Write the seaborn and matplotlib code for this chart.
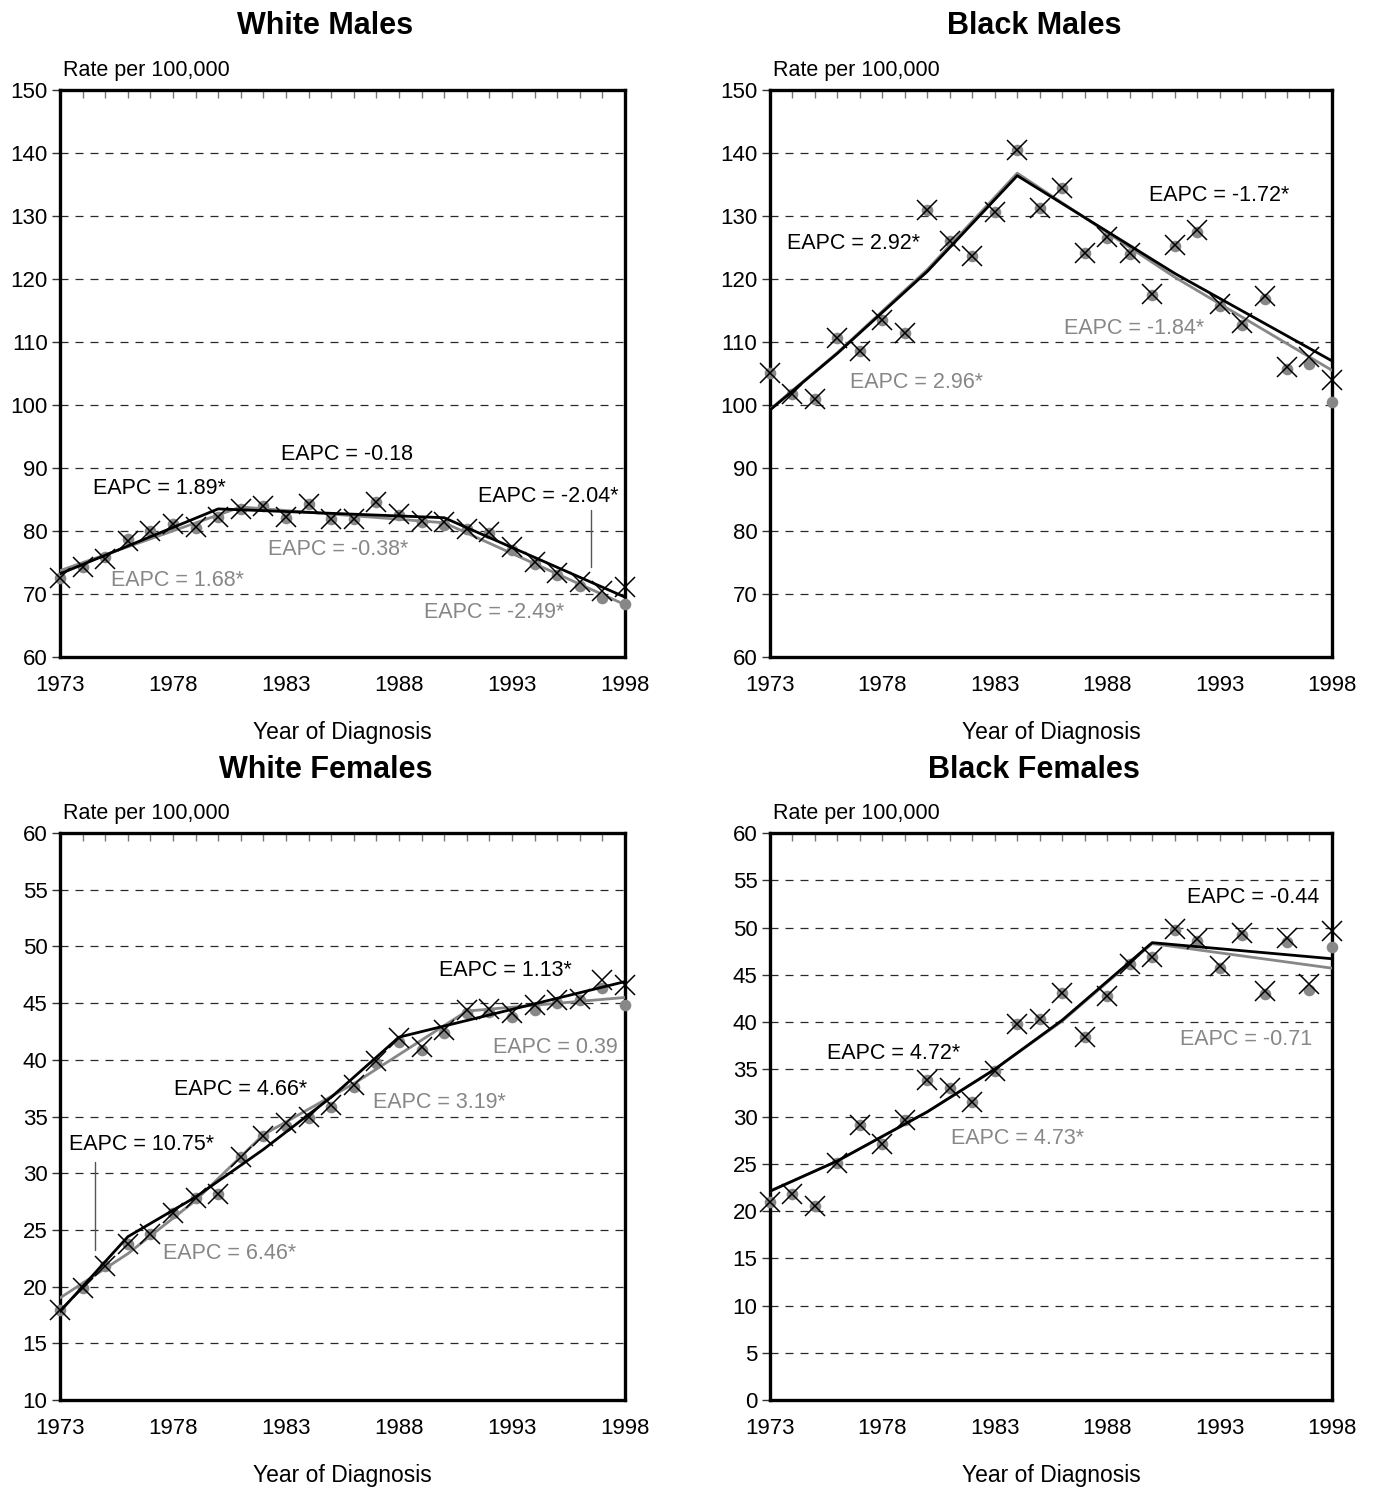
import numpy as np
import pandas as pd
import matplotlib
matplotlib.use("Agg")
import matplotlib.pyplot as plt
import seaborn as sns

years = list(range(1973, 1999))
tick_years = [1973, 1978, 1983, 1988, 1993, 1998]

# White males
wm_obs = [72.6, 74.2, 75.6, 78.4, 80.0, 81.1, 80.6, 82.2, 83.5, 83.9, 82.2, 84.3, 81.9, 81.9,
          84.6, 82.7, 81.6, 81.4, 80.3, 79.8, 77.4, 75.0, 73.4, 71.9, 70.5, 71.1]
wm_adj = [72.6, 74.2, 75.8, 78.7, 80.0, 81.1, 80.4, 82.2, 83.5, 83.9, 82.0, 84.2, 81.9, 81.9,
          84.6, 82.5, 81.4, 81.0, 80.3, 79.6, 77.0, 74.8, 73.0, 71.3, 69.3, 68.4]
wm_fit_x = [1973, 1980, 1990, 1998]
wm_fit = [73.2, 83.5, 82.1, 69.5]
wm_adj_fit_x = [1973, 1981, 1990, 1998]
wm_adj_fit = [73.7, 83.8, 81.3, 68.3]

# Black males
bm_obs = [105.1, 101.7, 101.0, 110.7, 108.6, 113.5, 111.4, 131.0, 126.1, 123.6, 130.7, 140.4, 131.2,
          134.4, 124.1, 126.7, 124.1, 117.6, 125.4, 127.7, 116.0, 113.0, 117.3, 106.1, 107.6, 103.9]
bm_adj = [105.1, 101.7, 101.0, 110.7, 108.6, 113.5, 111.4, 131.0, 126.1, 123.6, 130.7, 140.4, 131.2,
          134.4, 124.1, 126.5, 123.9, 117.4, 125.2, 127.4, 115.7, 112.7, 116.8, 105.7, 106.5, 100.5]
bm_fit_x = [1973, 1976, 1980, 1984, 1991, 1998]
bm_fit = [99.2, 108.2, 121.2, 136.4, 120.9, 107.0]
bm_adj_fit_x = [1973, 1976, 1980, 1984, 1991, 1998]
bm_adj_fit = [99.3, 108.3, 121.5, 136.8, 120.3, 105.5]

# White females
wf_obs = [17.9, 19.85, 21.8, 23.8, 24.6, 26.5, 27.8, 28.2, 31.4, 33.3, 34.4, 35.0, 36.0, 37.8,
          39.9, 41.9, 41.1, 42.6, 44.4, 44.5, 44.1, 44.8, 45.3, 45.4, 47.0, 46.6]
wf_adj = [17.9, 19.85, 21.8, 23.8, 24.6, 26.5, 27.8, 28.2, 31.4, 33.3, 34.2, 34.9, 35.8, 37.6,
          39.7, 41.6, 40.9, 42.4, 44.1, 44.2, 43.8, 44.4, 45.0, 45.3, 46.3, 44.8]
wf_fit_x = [1973, 1976, 1979, 1982, 1985, 1988, 1998]
wf_fit = [17.8, 24.4, 27.9, 32.1, 36.7, 42.0, 46.9]
wf_adj_fit_x = [1973, 1976, 1979, 1982, 1986, 1991, 1998]
wf_adj_fit = [19.0, 22.9, 27.6, 33.4, 37.9, 44.3, 45.5]

# Black females
bf_obs = [21.0, 21.8, 20.5, 25.1, 29.1, 27.1, 29.6, 33.9, 33.0, 31.5, 34.8, 39.8, 40.3, 43.1,
          38.4, 42.8, 46.1, 46.9, 49.8, 48.8, 45.9, 49.4, 43.3, 48.9, 44.0, 49.6]
bf_adj = [21.0, 21.8, 20.5, 25.1, 29.1, 27.1, 29.6, 33.9, 33.0, 31.5, 34.8, 39.8, 40.3, 43.1,
          38.4, 42.8, 46.1, 46.9, 49.7, 48.6, 45.7, 49.2, 43.0, 48.5, 43.4, 47.9]
bf_fit_x = [1973, 1976, 1980, 1983, 1986, 1990, 1998]
bf_fit = [22.1, 25.3, 30.5, 35.0, 40.2, 48.4, 46.7]
bf_adj_fit_x = [1973, 1976, 1980, 1983, 1986, 1990, 1998]
bf_adj_fit = [22.1, 25.3, 30.5, 35.0, 40.1, 48.3, 45.7]

BLACK = "#000000"
GREY = "#878787"

sns.set_style("white")
plt.rcParams['font.family'] = ['Liberation Sans', 'DejaVu Sans']
plt.rcParams['text.color'] = BLACK
plt.rcParams['axes.labelcolor'] = BLACK
plt.rcParams['xtick.color'] = BLACK
plt.rcParams['ytick.color'] = BLACK

fig = plt.figure(figsize=(13.73, 14.9), dpi=100)

panels = [
    dict(title="White Males", pos=[0.0437, 0.5591, 0.4115, 0.3805], ylim=(60, 150), ystep=10,
         obs=wm_obs, adj=wm_adj, fx=wm_fit_x, fy=wm_fit, gx=wm_adj_fit_x, gy=wm_adj_fit,
         notes=[("EAPC = -0.18", 1985.7, 92.1, BLACK), ("EAPC = 1.89*", 1977.4, 86.7, BLACK),
                ("EAPC = -2.04*", 1994.6, 85.4, BLACK), ("EAPC = -0.38*", 1985.3, 77.1, GREY),
                ("EAPC = 1.68*", 1978.2, 72.2, GREY), ("EAPC = -2.49*", 1992.2, 67.1, GREY)],
         vline=(1996.5, 74.3, 83.3)),
    dict(title="Black Males", pos=[0.5608, 0.5591, 0.4093, 0.3805], ylim=(60, 150), ystep=10,
         obs=bm_obs, adj=bm_adj, fx=bm_fit_x, fy=bm_fit, gx=bm_adj_fit_x, gy=bm_adj_fit,
         notes=[("EAPC = -1.72*", 1993.0, 133.3, BLACK), ("EAPC = 2.92*", 1976.7, 125.7, BLACK),
                ("EAPC = -1.84*", 1989.2, 112.2, GREY), ("EAPC = 2.96*", 1979.5, 103.5, GREY)],
         vline=None),
    dict(title="White Females", pos=[0.0437, 0.0604, 0.4115, 0.3805], ylim=(10, 60), ystep=5,
         obs=wf_obs, adj=wf_adj, fx=wf_fit_x, fy=wf_fit, gx=wf_adj_fit_x, gy=wf_adj_fit,
         notes=[("EAPC = 1.13*", 1992.7, 47.9, BLACK), ("EAPC = 0.39", 1994.9, 41.1, GREY),
                ("EAPC = 4.66*", 1981.0, 37.4, BLACK), ("EAPC = 3.19*", 1989.8, 36.2, GREY),
                ("EAPC = 10.75*", 1976.6, 32.5, BLACK), ("EAPC = 6.46*", 1980.5, 22.9, GREY)],
         vline=(1974.55, 23.2, 31.0)),
    dict(title="Black Females", pos=[0.5608, 0.0604, 0.4093, 0.3805], ylim=(0, 60), ystep=5,
         obs=bf_obs, adj=bf_adj, fx=bf_fit_x, fy=bf_fit, gx=bf_adj_fit_x, gy=bf_adj_fit,
         notes=[("EAPC = -0.44", 1994.5, 53.2, BLACK), ("EAPC = -0.71", 1994.2, 38.1, GREY),
                ("EAPC = 4.72*", 1978.5, 36.7, BLACK), ("EAPC = 4.73*", 1984.0, 27.7, GREY)],
         vline=None),
]

for p in panels:
    ax = fig.add_axes(p["pos"])
    df = pd.DataFrame({"year": years, "obs": p["obs"], "adj": p["adj"]})

    # dashed horizontal grid like the original
    ax.yaxis.grid(True, linestyle=(0, (6.4, 5.6)), color="#2a2a2a", lw=0.9)
    ax.set_axisbelow(True)

    sns.scatterplot(data=df, x="year", y="adj", ax=ax, color=GREY, s=70, linewidth=0,
                    clip_on=False, zorder=3)
    sns.lineplot(x=p["gx"], y=p["gy"], ax=ax, color=GREY, lw=2.0, zorder=4)
    sns.lineplot(x=p["fx"], y=p["fy"], ax=ax, color=BLACK, lw=2.0, zorder=5)
    ax.plot(df["year"], df["obs"], linestyle="none", marker="x", ms=15, mew=1.1,
            color=BLACK, clip_on=False, zorder=6)

    for txt, x, y, c in p["notes"]:
        ax.text(x, y, txt, color=c, fontsize=15.5, ha="center", va="center", zorder=7)
    if p["vline"] is not None:
        vx, y0, y1 = p["vline"]
        ax.plot([vx, vx], [y0, y1], color="#555555", lw=1.0, zorder=7)

    y0, y1 = p["ylim"]
    ax.set_xlim(1973, 1998)
    ax.set_ylim(y0, y1)
    ax.set_yticks(np.arange(y0, y1 + 1, p["ystep"]))
    ax.set_xticks(years)
    ax.set_xticklabels([str(y) if y in tick_years else "" for y in years])
    ax.tick_params(axis="both", labelsize=16, labelcolor=BLACK)
    ax.tick_params(axis="x", direction="out", length=7, width=1.0, pad=6, color="#555555")
    ax.tick_params(axis="y", direction="out", length=6, width=1.0, pad=3, left=True,
                   color="#333333")

    top = ax.secondary_xaxis("top")
    top.set_xticks(years)
    top.set_xticklabels([])
    top.tick_params(direction="in", length=6, width=1.0, color="#777777")

    for side in ["left", "right", "top", "bottom"]:
        ax.spines[side].set_visible(True)
        ax.spines[side].set_linewidth(2.4)
        ax.spines[side].set_color(BLACK)
    top.spines["top"].set_visible(False)

    ax.set_xlabel("Year of Diagnosis", fontsize=16.5, labelpad=18)
    ax.set_ylabel("")
    ax.text(0.005, 1.035, "Rate per 100,000", transform=ax.transAxes, fontsize=15.5,
            ha="left", va="center")
    ax.text(0.47, 1.112, p["title"], transform=ax.transAxes, fontsize=22,
            fontweight="bold", ha="center", va="center")

fig.savefig("out.png", dpi=100)
